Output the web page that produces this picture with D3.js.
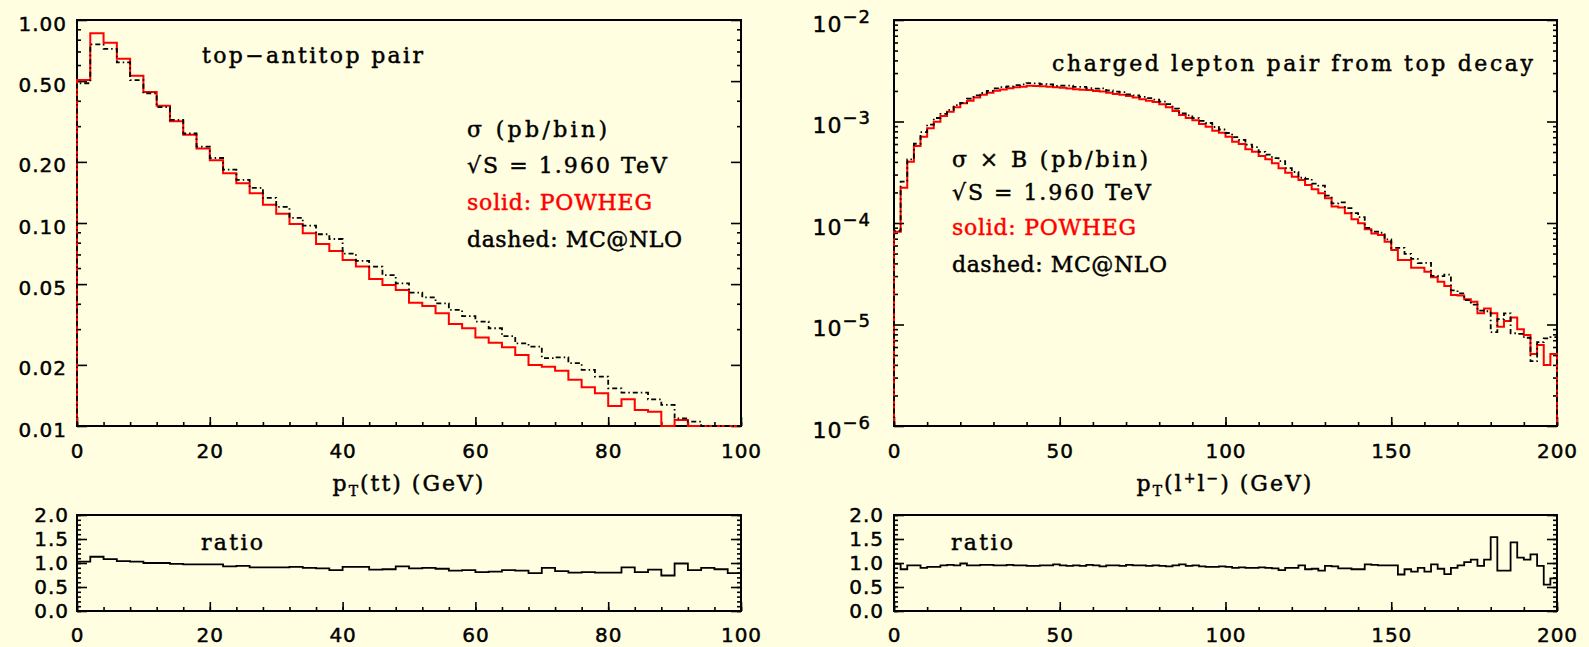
<!DOCTYPE html>
<html>
<head>
<meta charset="utf-8">
<script src="https://cdn.jsdelivr.net/npm/d3@7"></script>
<style>
  html, body { margin: 0; padding: 0; background: #fffee0; }
  svg { display: block; }
</style>
</head>
<body>
<div id="chart"></div>
<script>
// ---- data ----
// top-antitop pair pT, 2 GeV bins from 0 to 100
const ttBinWidth = 2;
const ttPowheg = [0.506, 0.86, 0.773, 0.645, 0.532, 0.442, 0.378, 0.317, 0.272, 0.233,
  0.204, 0.176, 0.157, 0.140, 0.123, 0.111, 0.0989, 0.089, 0.0788, 0.0728,
  0.0657, 0.061, 0.053, 0.0495, 0.0468, 0.0405, 0.039, 0.0359, 0.0318, 0.0303,
  0.0273, 0.0257, 0.0244, 0.0224, 0.0200, 0.0196, 0.0187, 0.0169, 0.0155, 0.0145,
  0.01256, 0.01353, 0.0120, 0.01175, 0.0094, 0.0107, 0.0089, 0.0086, 0.0078, 0.0067];
const ttMcatnlo = [0.488, 0.759, 0.720, 0.618, 0.506, 0.435, 0.372, 0.322, 0.276, 0.238,
  0.209, 0.183, 0.163, 0.149, 0.133, 0.120, 0.106, 0.097, 0.088, 0.0834,
  0.0707, 0.0651, 0.061, 0.0554, 0.0504, 0.0454, 0.043, 0.0402, 0.0373, 0.0348,
  0.0327, 0.0303, 0.0277, 0.0255, 0.0246, 0.0216, 0.0218, 0.0204, 0.0189, 0.0175,
  0.01534, 0.01459, 0.01459, 0.01353, 0.0127, 0.0109, 0.0105, 0.0096, 0.0090, 0.0085];
const ttRatio = [1.03, 1.13, 1.08, 1.04, 1.03, 1.00, 1.00, 0.98, 0.97, 0.97,
  0.97, 0.93, 0.94, 0.91, 0.91, 0.91, 0.92, 0.90, 0.89, 0.85,
  0.92, 0.92, 0.86, 0.87, 0.93, 0.89, 0.90, 0.88, 0.84, 0.85,
  0.81, 0.82, 0.85, 0.84, 0.79, 0.90, 0.83, 0.80, 0.81, 0.80,
  0.80, 0.91, 0.81, 0.86, 0.74, 0.99, 0.85, 0.90, 0.87, 0.79];

// charged lepton pair pT, 2 GeV bins from 0 to 200
const llBinWidth = 2;
const llPowheg = [8.2e-5, 2.23e-4, 4.02e-4, 5.74e-4, 7.08e-4, 8.57e-4, 9.96e-4, 1.13e-3, 1.25e-3, 1.38e-3,
  1.51e-3, 1.60e-3, 1.72e-3, 1.83e-3, 1.92e-3, 2.01e-3, 2.07e-3, 2.13e-3, 2.17e-3, 2.20e-3,
  2.25e-3, 2.24e-3, 2.22e-3, 2.20e-3, 2.17e-3, 2.15e-3, 2.12e-3, 2.08e-3, 2.06e-3, 2.04e-3,
  2.00e-3, 1.97e-3, 1.92e-3, 1.87e-3, 1.83e-3, 1.78e-3, 1.72e-3, 1.66e-3, 1.60e-3, 1.56e-3,
  1.48e-3, 1.38e-3, 1.27e-3, 1.16e-3, 1.08e-3, 1.03e-3, 9.45e-4, 8.90e-4, 8.12e-4, 7.76e-4,
  7.08e-4, 6.32e-4, 6.00e-4, 5.32e-4, 5.04e-4, 4.57e-4, 4.24e-4, 3.88e-4, 3.46e-4, 3.13e-4,
  2.86e-4, 2.65e-4, 2.37e-4, 2.15e-4, 1.96e-4, 1.75e-4, 1.45e-4, 1.42e-4, 1.25e-4, 1.09e-4,
  9.93e-5, 8.67e-5, 7.90e-5, 7.62e-5, 6.55e-5, 5.42e-5, 4.32e-5, 4.32e-5, 3.63e-5, 3.63e-5,
  3.31e-5, 2.92e-5, 2.64e-5, 2.39e-5, 1.95e-5, 1.93e-5, 1.77e-5, 1.68e-5, 1.29e-5, 1.44e-5,
  1.29e-5, 9.5e-6, 1.08e-5, 1.17e-5, 9.0e-6, 7.9e-6, 5.13e-6, 6.28e-6, 3.99e-6, 5.13e-6];
const llMcatnlo = [8.4e-5, 2.56e-4, 4.23e-4, 6.04e-4, 7.87e-4, 9.32e-4, 1.083e-3, 1.19e-3, 1.30e-3, 1.45e-3,
  1.525e-3, 1.68e-3, 1.81e-3, 1.91e-3, 2.00e-3, 2.12e-3, 2.18e-3, 2.22e-3, 2.28e-3, 2.32e-3,
  2.39e-3, 2.38e-3, 2.34e-3, 2.32e-3, 2.24e-3, 2.26e-3, 2.26e-3, 2.19e-3, 2.19e-3, 2.125e-3,
  2.105e-3, 2.12e-3, 2.02e-3, 1.97e-3, 1.95e-3, 1.85e-3, 1.81e-3, 1.75e-3, 1.70e-3, 1.64e-3,
  1.57e-3, 1.48e-3, 1.34e-3, 1.20e-3, 1.15e-3, 1.08e-3, 1.016e-3, 9.67e-4, 8.83e-4, 8.34e-4,
  7.70e-4, 7.02e-4, 6.59e-4, 5.91e-4, 5.60e-4, 5.02e-4, 4.71e-4, 4.36e-4, 4.07e-4, 3.48e-4,
  3.18e-4, 2.79e-4, 2.72e-4, 2.44e-4, 2.33e-4, 1.86e-4, 1.56e-4, 1.60e-4, 1.40e-4, 1.25e-4,
  1.14e-4, 8.94e-5, 8.23e-5, 8.02e-5, 6.89e-5, 5.70e-5, 5.68e-5, 4.97e-5, 4.43e-5, 4.03e-5,
  4.04e-5, 3.01e-5, 3.00e-5, 3.10e-5, 2.17e-5, 2.03e-5, 1.74e-5, 1.57e-5, 1.37e-5, 1.35e-5,
  8.4e-6, 1.13e-5, 1.29e-5, 8.2e-6, 8.1e-6, 7.4e-6, 4.35e-6, 6.7e-6, 7.3e-6, 7.5e-6];
const llRatio = [0.98, 0.87, 0.95, 0.95, 0.90, 0.92, 0.92, 0.95, 0.96, 0.95,
  0.99, 0.95, 0.95, 0.96, 0.96, 0.95, 0.95, 0.96, 0.95, 0.95,
  0.94, 0.94, 0.95, 0.95, 0.97, 0.95, 0.94, 0.95, 0.94, 0.96,
  0.95, 0.93, 0.95, 0.95, 0.94, 0.96, 0.95, 0.95, 0.94, 0.95,
  0.94, 0.93, 0.95, 0.97, 0.94, 0.95, 0.93, 0.92, 0.92, 0.93,
  0.92, 0.90, 0.91, 0.90, 0.90, 0.91, 0.90, 0.89, 0.85, 0.90,
  0.90, 0.95, 0.87, 0.88, 0.84, 0.94, 0.93, 0.89, 0.89, 0.87,
  0.87, 0.97, 0.96, 0.95, 0.95, 0.95, 0.76, 0.87, 0.82, 0.90,
  0.82, 0.97, 0.88, 0.77, 0.90, 0.95, 1.02, 1.07, 0.94, 1.07,
  1.54, 0.84, 0.84, 1.43, 1.11, 1.07, 1.18, 0.94, 0.55, 0.68];

// tick labels
const ttXTicks = [0, 20, 40, 60, 80, 100];
const llXTicks = [0, 50, 100, 150, 200];
const ttYTicks = [0.01, 0.02, 0.05, 0.10, 0.20, 0.50, 1.00];
const llYTicks = [1e-6, 1e-5, 1e-4, 1e-3, 1e-2];
const ratioTicks = [0.0, 0.5, 1.0, 1.5, 2.0];

const bg = "#fffee0";
const numFont = "DejaVu Sans";
const txtFont = "DejaVu Serif";

const svg = d3.select("#chart").append("svg")
  .attr("width", 1589).attr("height", 647);
svg.append("rect").attr("width", 1589).attr("height", 647).attr("fill", bg);

// histogram outline points, optionally dropping to a base value at both ends
function stepPoints(width, vals, base) {
  const pts = [];
  if (base !== undefined) pts.push([0, base]);
  vals.forEach((v, i) => pts.push([i * width, v]));
  pts.push([vals.length * width, vals[vals.length - 1]]);
  if (base !== undefined) pts.push([vals.length * width, base]);
  return pts;
}

// slightly heavier glyphs, like the original plot
function heavy(sel, color) {
  sel.attr("stroke", color || "#000").attr("stroke-width", 0.45)
    .attr("paint-order", "stroke");
}

function styleAxis(sel, size) {
  sel.select(".domain").remove();
  sel.attr("font-family", numFont).attr("font-size", size || 20);
  sel.selectAll(".tick line").attr("stroke", "#000").attr("stroke-width", 1.6);
  sel.selectAll(".tick text").attr("fill", "#000").style("letter-spacing", "1px").call(heavy);
}

function frame(g, w, h) {
  g.append("rect").attr("width", w).attr("height", h)
    .attr("fill", "none").attr("stroke", "#000").attr("stroke-width", 2);
}

function xAxes(g, x, h, major, minorStep, pad) {
  const d = x.domain();
  g.append("g").attr("transform", `translate(0,${h})`)
    .call(d3.axisBottom(x).tickValues(d3.range(d[0], d[1] + 0.001, minorStep)).tickSize(-4).tickFormat(""))
    .call(styleAxis);
  g.append("g").attr("transform", `translate(0,${h})`)
    .call(d3.axisBottom(x).tickValues(major).tickSize(-9).tickPadding(pad).tickFormat(d3.format("d")))
    .call(styleAxis);
}

function mainPanel(c) {
  const g = svg.append("g").attr("transform", `translate(${c.left},${c.top})`);
  const w = c.width, h = c.height;
  const x = d3.scaleLinear().domain(c.xDomain).range([0, w]);
  const y = d3.scaleLog().domain(c.yDomain).range([h, 0]).clamp(true);

  frame(g, w, h);
  const minor = y.ticks().filter(t => !c.yMajor.some(m => Math.abs(m / t - 1) < 1e-6));
  // left ticks and labels
  g.append("g").call(d3.axisLeft(y).tickValues(minor).tickSize(-4).tickFormat("")).call(styleAxis);
  const yl = g.append("g")
    .call(d3.axisLeft(y).tickValues(c.yMajor).tickSize(-10).tickPadding(c.yPad).tickFormat(c.yFormat))
    .call(styleAxis, c.yFontSize);
  yl.selectAll(".tick text").attr("dy", c.yDy);
  if (c.superscript) {
    yl.selectAll(".tick text").text(null).each(function(d) {
      const t = d3.select(this);
      t.append("tspan").text("10");
      t.append("tspan").attr("dy", -9).attr("font-size", 18)
        .text("\u2212" + Math.round(-Math.log10(d)));
    });
  }
  // mirrored right ticks
  g.append("g").attr("transform", `translate(${w},0)`)
    .call(d3.axisRight(y).tickValues(minor).tickSize(-4).tickFormat("")).call(styleAxis);
  g.append("g").attr("transform", `translate(${w},0)`)
    .call(d3.axisRight(y).tickValues(c.yMajor).tickSize(-10).tickFormat("")).call(styleAxis);
  xAxes(g, x, h, c.xMajor, c.xMinor, 18);

  const line = d3.line().x(d => x(d[0])).y(d => y(d[1])).curve(d3.curveStepAfter);
  g.append("path")
    .attr("d", line(stepPoints(c.binWidth, c.powheg, c.yDomain[0])))
    .attr("fill", "none").attr("stroke", "#ff0000").attr("stroke-width", 2);
  g.append("path")
    .attr("d", line(stepPoints(c.binWidth, c.mcatnlo, c.yDomain[0])))
    .attr("fill", "none").attr("stroke", "#000").attr("stroke-width", 1.8)
    .attr("stroke-dasharray", "5,3,1.5,3");
  return g;
}

function ratioPanel(c) {
  const g = svg.append("g").attr("transform", `translate(${c.left},${c.top})`);
  const w = c.width, h = c.height;
  const x = d3.scaleLinear().domain(c.xDomain).range([0, w]);
  const y = d3.scaleLinear().domain([0, 2]).range([h, 0]);

  frame(g, w, h);
  const minor = d3.range(0, 2.001, 0.1);
  g.append("g").call(d3.axisLeft(y).tickValues(minor).tickSize(-4).tickFormat("")).call(styleAxis);
  g.append("g")
    .call(d3.axisLeft(y).tickValues(ratioTicks).tickSize(-10).tickPadding(c.yPad).tickFormat(d3.format(".1f")))
    .call(styleAxis);
  g.append("g").attr("transform", `translate(${w},0)`)
    .call(d3.axisRight(y).tickValues(minor).tickSize(-4).tickFormat("")).call(styleAxis);
  g.append("g").attr("transform", `translate(${w},0)`)
    .call(d3.axisRight(y).tickValues(ratioTicks).tickSize(-10).tickFormat("")).call(styleAxis);
  xAxes(g, x, h, c.xMajor, c.xMinor, 17);

  const line = d3.line().x(d => x(d[0])).y(d => y(d[1])).curve(d3.curveStepAfter);
  g.append("path")
    .attr("d", line(stepPoints(c.binWidth, c.ratio)))
    .attr("fill", "none").attr("stroke", "#000").attr("stroke-width", 1.8);

  g.append("text").attr("x", c.labelX).attr("y", 35)
    .attr("font-family", txtFont).attr("font-size", 22)
    .attr("textLength", 62).attr("lengthAdjust", "spacing")
    .text("ratio").call(heavy);
}

function label(txt, x, y, len, color) {
  svg.append("text").attr("x", x).attr("y", y)
    .attr("font-family", txtFont).attr("font-size", 22)
    .attr("fill", color || "#000")
    .attr("textLength", len).attr("lengthAdjust", "spacing")
    .text(txt).call(heavy, color);
}

// ---- left: top-antitop pair ----
mainPanel({
  left: 77, top: 20, width: 664, height: 406,
  xDomain: [0, 100], yDomain: [0.01, 1],
  xMajor: ttXTicks, xMinor: 4, yMajor: ttYTicks,
  yFormat: d3.format(".2f"), yPad: 10, yDy: "0.5em", yFontSize: 20,
  binWidth: ttBinWidth, powheg: ttPowheg, mcatnlo: ttMcatnlo
});
ratioPanel({
  left: 77, top: 515, width: 664, height: 96,
  xDomain: [0, 100], xMajor: ttXTicks, xMinor: 4, yPad: 8,
  binWidth: ttBinWidth, ratio: ttRatio, labelX: 124
});

label("top\u2212antitop pair", 202, 63, 221);
label("\u03c3 (pb/bin)", 467, 137, 140);
label("\u221aS = 1.960 TeV", 467, 173, 200);
label("solid: POWHEG", 467, 210, 185, "#ff0000");
label("dashed: MC@NLO", 467, 247, 215);

// ---- right: charged lepton pair from top decay ----
mainPanel({
  left: 894, top: 20, width: 663, height: 406,
  xDomain: [0, 200], yDomain: [1e-6, 1e-2],
  xMajor: llXTicks, xMinor: 10, yMajor: llYTicks,
  yFormat: d => d, yPad: 23, yDy: "0.5em", yFontSize: 22, superscript: true,
  binWidth: llBinWidth, powheg: llPowheg, mcatnlo: llMcatnlo
});
ratioPanel({
  left: 894, top: 515, width: 663, height: 96,
  xDomain: [0, 200], xMajor: llXTicks, xMinor: 10, yPad: 10,
  binWidth: llBinWidth, ratio: llRatio, labelX: 57
});

label("charged lepton pair from top decay", 1052, 71, 481);
label("\u03c3 \u00d7 B (pb/bin)", 952, 167, 196);
label("\u221aS = 1.960 TeV", 952, 200, 199);
label("solid: POWHEG", 952, 235, 184, "#ff0000");
label("dashed: MC@NLO", 952, 272, 215);

// ---- axis titles ----
function axisTitle(cx, parts) {
  const t = svg.append("text").attr("x", cx).attr("y", 491)
    .attr("text-anchor", "middle")
    .attr("font-family", txtFont).attr("font-size", 22)
    .style("letter-spacing", "2px").call(heavy);
  parts.forEach(p => {
    t.append("tspan").attr("dy", p.dy || 0).attr("font-size", p.size || 22).text(p.t);
  });
}
axisTitle(409, [{t: "p"}, {t: "T", size: 14, dy: 5}, {t: "(tt) (GeV)", dy: -5}]);
axisTitle(1225, [{t: "p"}, {t: "T", size: 14, dy: 5}, {t: "(l", dy: -5},
  {t: "+", size: 14, dy: -8}, {t: "l", dy: 8}, {t: "\u2212", size: 14, dy: -8},
  {t: ") (GeV)", dy: 8}]);
</script>
</body>
</html>
